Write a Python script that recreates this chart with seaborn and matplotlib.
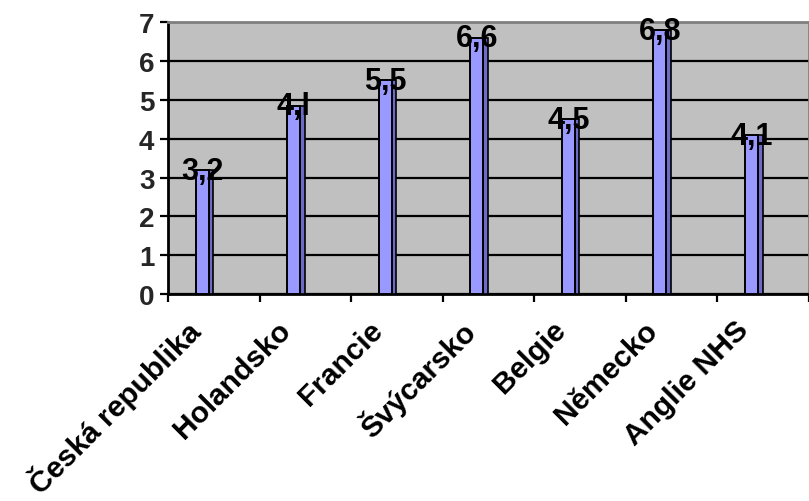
import numpy as np
import pandas as pd
import seaborn as sns
import matplotlib.pyplot as plt
from matplotlib.transforms import ScaledTranslation

countries = ["Česká republika", "Holandsko", "Francie", "Švýcarsko",
             "Belgie", "Německo", "Anglie NHS"]
values = [3.2, 4.85, 5.5, 6.6, 4.5, 6.8, 4.1]
value_labels = ["3,2", "4,l", "5,5", "6,6", "4,5", "6,8", "4,1"]
y_ticks = [0, 1, 2, 3, 4, 5, 6, 7]

sns.set_theme(style="white")
plt.rcParams['font.family'] = ['Liberation Sans', 'DejaVu Sans']

df = pd.DataFrame({"country": countries, "value": values})

fig = plt.figure(figsize=(8.09, 5.02), dpi=100)
ax = fig.add_axes([0.208, 0.412, 0.792, 0.542])
ax.set_facecolor("#C0C0C0")

# front face of the columns
sns.barplot(data=df, x="country", y="value", ax=ax, color="#9999FF",
            saturation=1, width=0.145, edgecolor="black", linewidth=1.4,
            zorder=3)
# side face for the 3D look
x = np.arange(len(values))
ax.bar(x + 0.097, values, width=0.05, color="#6B6BC8", edgecolor="black",
       linewidth=1.2, zorder=2.9)

for xi, v, lab in zip(x, values, value_labels):
    ax.text(xi, v - 0.02, lab, ha="center", va="center", fontsize=22,
            fontweight="bold", color="black", zorder=4)

ax.set_xlim(-0.37, 6.63)
ax.set_ylim(0, 7)
ax.set_yticks(y_ticks)
ax.set_yticklabels([str(t) for t in y_ticks], fontsize=20, fontweight="bold")
ax.yaxis.grid(True, color="black", linewidth=1.6, zorder=1)
ax.set_axisbelow(True)

# category labels, rotated, placed under each column
ax.set_xticks(x)
ax.set_xticklabels([])
shift = ScaledTranslation(-7 / 100, -31 / 100, fig.dpi_scale_trans)
for xi, name in zip(x, countries):
    ax.text(xi, 0, name, transform=ax.get_xaxis_transform() + shift,
            rotation=45, ha="right", va="center", rotation_mode="anchor",
            fontsize=21.5, fontweight="bold", color="black", clip_on=False)

ax.set_xticks(np.arange(-0.37, 6.7, 1.0), minor=True)
ax.tick_params(axis="x", which="major", length=0)
ax.tick_params(axis="x", which="minor", length=6, width=1.6, color="black",
               direction="out", bottom=True)
ax.tick_params(axis="y", length=6, width=1.6, color="black",
               direction="out", left=True, pad=4)

for side in ["top", "right"]:
    ax.spines[side].set_color("#808080")
    ax.spines[side].set_linewidth(2)
for side in ["left", "bottom"]:
    ax.spines[side].set_color("black")
    ax.spines[side].set_linewidth(2)

ax.set_xlabel("")
ax.set_ylabel("")

fig.savefig("out.png", dpi=100)
